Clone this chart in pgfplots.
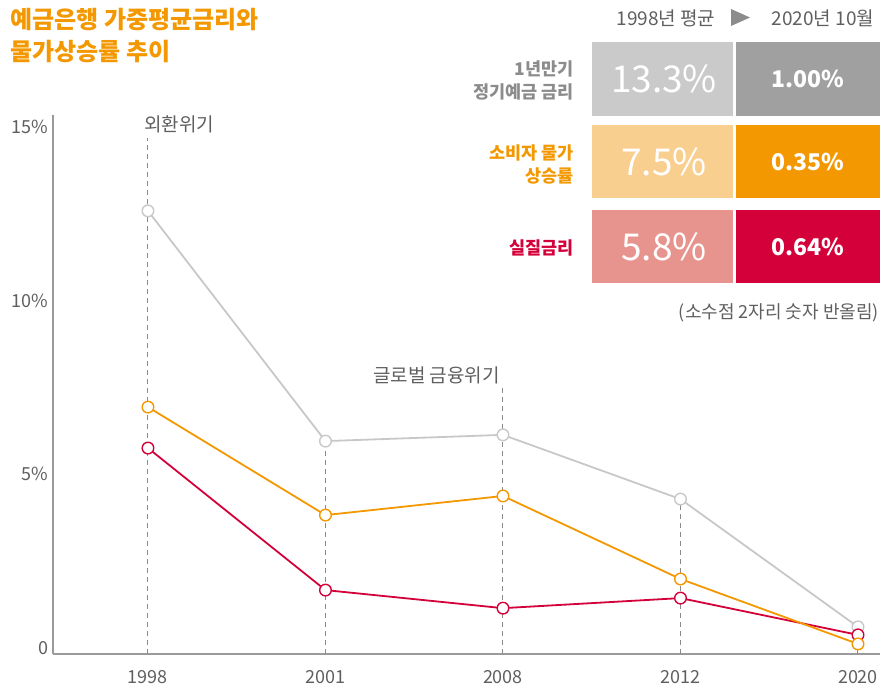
\documentclass[border=0pt]{standalone}
\usepackage{fontspec}
\setmainfont{Noto Sans CJK KR}
\usepackage{pgfplots}
\pgfplotsset{compat=1.18}
\definecolor{cgrey}{HTML}{C8C8C8}
\definecolor{corange}{HTML}{F39800}
\definecolor{cred}{HTML}{D3003A}
\definecolor{txt}{HTML}{5F5F5F}
\definecolor{axisc}{HTML}{9A9A9A}
\definecolor{dashc}{HTML}{8A8A8A}
\definecolor{boxa}{HTML}{C9CAC9}
\definecolor{boxb}{HTML}{A0A0A0}
\definecolor{boxc}{HTML}{F9CF8F}
\definecolor{boxd}{HTML}{F39800}
\definecolor{boxe}{HTML}{E8948E}
\definecolor{boxf}{HTML}{D3003A}
\definecolor{lblgrey}{HTML}{8C8C8C}
\definecolor{tri}{HTML}{8C8C8C}
\newcommand{\fs}[1]{\fontsize{#1}{#1}\selectfont}

\begin{document}
\begin{tikzpicture}[x=1pt,y=1pt]
\path[use as bounding box] (0,0) rectangle (883,689);
\begin{axis}[at={(53pt,35pt)}, anchor=south west, scale only axis,
  width=827pt, height=539pt,
  xmin=-0.535, xmax=4.124, ymin=0, ymax=15.52,
  axis x line=bottom, axis y line=left,
  axis line style={-, draw=axisc, line width=2pt},
  xtick={0,1,2,3,4}, xticklabels={1998,2001,2008,2012,2020},
  ytick={0,5,10,15}, yticklabels={0,5\%,10\%,15\%},
  major tick length=0pt,
  tick label style={font=\fs{18}, text=txt},
  /pgf/number format/assume math mode=true,
  yticklabel style={yshift=6pt, xshift=-1pt},
  xticklabel style={yshift=-13pt},
  clip=false,
]
\addplot[ycomb, draw=dashc, line width=1pt, dash pattern=on 5pt off 4pt, no markers]
  coordinates {(0,14.86) (1,6.13) (2,7.66) (3,4.46) (4,0.78)};
\addplot[cgrey, line width=1.8pt, mark=*, mark size=5.8pt,
  mark options={fill=white, draw=cgrey, line width=1.4pt}]
  coordinates {(0,12.76) (1,6.13) (2,6.31) (3,4.46) (4,0.78)};
\addplot[cred, line width=1.8pt, mark=*, mark size=5.8pt,
  mark options={fill=white, draw=cred, line width=1.4pt}]
  coordinates {(0,5.93) (1,1.84) (2,1.32) (3,1.61) (4,0.55)};
\addplot[corange, line width=1.8pt, mark=*, mark size=5.8pt,
  mark options={fill=white, draw=corange, line width=1.4pt}]
  coordinates {(0,7.11) (1,4.00) (2,4.55) (3,2.16) (4,0.29)};
\node[anchor=west, inner sep=0pt, font=\fs{19}, text=txt, xshift=-4pt] at (axis cs:0,15.26) {외환위기};
\node[anchor=east, inner sep=0pt, font=\fs{19}, text=txt, xshift=-3pt] at (axis cs:2,8.03) {글로벌 금융위기};
\end{axis}

% title
\node[anchor=west, inner sep=0pt, font=\bfseries\fs{24}, text=corange] at (10,669) {예금은행 가중평균금리와};
\node[anchor=west, inner sep=0pt, font=\bfseries\fs{24}, text=corange] at (10,637) {물가상승률 추이};

% header
\node[inner sep=0pt, font=\fs{19}, text=txt] at (666,671) {1998년 평균};
\fill[tri] (731,680) -- (731,663) -- (750,671.5) -- cycle;
\node[inner sep=0pt, font=\fs{19}, text=txt] at (823,671) {2020년 10월};

% boxes
\fill[boxa] (592,573) rectangle (733,647);
\fill[boxb] (736,573) rectangle (880,647);
\fill[boxc] (592,491) rectangle (733,564);
\fill[boxd] (736,491) rectangle (880,564);
\fill[boxe] (592,406) rectangle (733,479);
\fill[boxf] (736,406) rectangle (880,479);

\node[inner sep=0pt, text=white, font=\fs{37}] at (664,610) {13.3\%};
\node[inner sep=0pt, text=white, font=\bfseries\fs{23}] at (808,610) {1.00\%};
\node[inner sep=0pt, text=white, font=\fs{37}] at (664,527.5) {7.5\%};
\node[inner sep=0pt, text=white, font=\bfseries\fs{23}] at (808,527.5) {0.35\%};
\node[inner sep=0pt, text=white, font=\fs{37}] at (664,442.5) {5.8\%};
\node[inner sep=0pt, text=white, font=\bfseries\fs{23}] at (808,442.5) {0.64\%};

% row labels
\node[anchor=east, align=right, inner sep=0pt, font=\bfseries\fontsize{17.5}{23}\selectfont, text=lblgrey] at (574,608.5) {1년만기\\정기예금 금리};
\node[anchor=east, align=right, inner sep=0pt, font=\bfseries\fontsize{17.5}{23}\selectfont, text=corange] at (574,525) {소비자 물가\\상승률};
\node[anchor=east, align=right, inner sep=0pt, font=\bfseries\fontsize{17.5}{23}\selectfont, text=cred] at (574,441) {실질금리};

% footnote
\node[anchor=east, inner sep=0pt, font=\fs{18}, text=txt] at (879,376) {(소수점 2자리 숫자 반올림)};
\end{tikzpicture}
\end{document}
